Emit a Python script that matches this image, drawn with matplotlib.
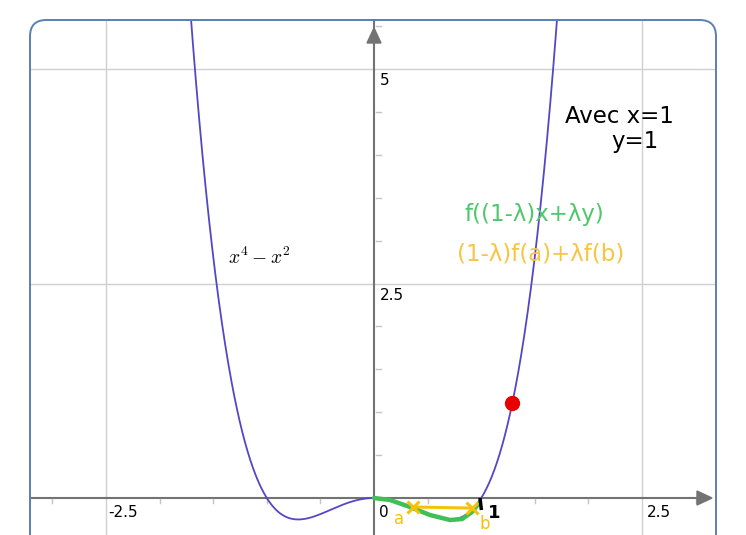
import numpy as np
import matplotlib
matplotlib.use("Agg")
import matplotlib.pyplot as plt
from matplotlib.patches import FancyBboxPatch, Polygon

plt.rcParams["mathtext.fontset"] = "cm"

# fonction tracée
x_min, x_max = -3.489, 3.470
y_min, y_max = -0.431, 5.804
xs = np.linspace(-2.0, 2.0, 800)
ys = xs**4 - xs**2

# point rouge sur la courbe
point_x = [1.29]
point_y = [1.11]

# trait vert (à la main) sous l'axe
vert_x = [0.0, 0.149, 0.336, 0.522, 0.709, 0.821, 0.914, 0.98]
vert_y = [0.0, -0.023, -0.105, -0.198, -0.256, -0.245, -0.163, -0.058]

# corde jaune entre a et b
jaune_x = [0.364, 0.914]
jaune_y = [-0.105, -0.117]

# graduations
grid_x = [-2.5, 2.5]
grid_y = [2.5, 5.0]
ticks_x = [-3.0, -2.0, -1.5, -1.0, -0.5, 0.5, 1.0, 1.5, 2.0, 3.0]
ticks_y = [0.5, 1.0, 1.5, 2.0, 3.0, 3.5, 4.0, 4.5, 5.5]
labels_x = {-2.5: "-2.5", 2.5: "2.5"}
labels_y = {2.5: "2.5", 5.0: "5"}

W, H = 746, 535
fig = plt.figure(figsize=(W / 100, H / 100), dpi=100)
ax = fig.add_axes([0, 0, 1, 1])
ax.set_xlim(x_min, x_max)
ax.set_ylim(y_min, y_max)
ax.axis("off")

# cadre arrondi
box = dict(boxstyle="round,pad=0,rounding_size=0.022", mutation_aspect=W / H,
           transform=ax.transAxes)
cadre_fond = FancyBboxPatch((30 / W, -0.08), (716 - 30) / W, 1 - 20 / H + 0.08,
                            fc="white", ec="none", zorder=0, **box)
cadre = FancyBboxPatch((30 / W, -0.08), (716 - 30) / W, 1 - 20 / H + 0.08,
                       fc="none", ec="#5b7fb4", lw=1.4, zorder=10, clip_on=False, **box)
ax.add_patch(cadre_fond)
ax.add_patch(cadre)

clip_items = []
for gx in grid_x:
    clip_items.append(ax.axvline(gx, color="#d0d0d0", lw=1.0, zorder=1))
for gy in grid_y:
    clip_items.append(ax.axhline(gy, color="#d0d0d0", lw=1.0, zorder=1))

# axes avec flèches
axe_col = "#737373"
px = (x_max - x_min) / W
py = (y_max - y_min) / H
x_tip = x_min + 712 * px
y_tip = y_max - 28 * py
clip_items += ax.plot([x_min, x_tip - 8 * px], [0, 0], color=axe_col, lw=1.5, zorder=2)
clip_items += ax.plot([0, 0], [y_min, y_tip + 8 * py], color=axe_col, lw=1.5, zorder=2)
ax.add_patch(Polygon([[x_tip, 0], [x_tip - 15 * px, 7 * py], [x_tip - 15 * px, -7 * py]],
                     closed=True, color=axe_col, zorder=3))
ax.add_patch(Polygon([[0, y_tip], [-7 * px, y_tip - 15 * py], [7 * px, y_tip - 15 * py]],
                     closed=True, color=axe_col, zorder=3))

for tx in ticks_x:
    ax.plot([tx, tx], [-1 * py, -5 * py], color="#c4c4c4", lw=1.0, zorder=2)
for ty in ticks_y:
    ax.plot([2 * px, 7 * px], [ty, ty], color="#c4c4c4", lw=1.0, zorder=2)

for tx, lab in labels_x.items():
    ax.text(tx + 17 * px, -7 * py, lab, fontsize=11, ha="center", va="top", zorder=4)
ax.text(10 * px, -7 * py, "0", fontsize=11, ha="center", va="top", zorder=4)
for ty, lab in labels_y.items():
    ax.text(6 * px, ty - 12 * py, lab, fontsize=11, ha="left", va="center", zorder=4)

# courbe
clip_items += ax.plot(xs, ys, color="#5447c7", lw=1.3, zorder=5)
for it in clip_items:
    it.set_clip_path(cadre_fond)

ax.text(-1.07, 2.80, r"$x^4-x^2$", fontsize=14, ha="center", va="center", zorder=6)

# annotations à la main
ax.plot(vert_x, vert_y, color="#3fbf55", lw=3.2, solid_capstyle="round", zorder=6)
ax.plot(jaune_x, jaune_y, color="#f4c20d", lw=2.2, zorder=7)
ax.plot(jaune_x, jaune_y, ls="none", marker="x", ms=9, mew=2.2, color="#f4c20d", zorder=7)
ax.text(0.233, -0.245, "a", color="#f4c20d", fontsize=12, ha="center", va="center", zorder=7)
ax.text(1.03, -0.30, "b", color="#f4c20d", fontsize=12, ha="center", va="center", zorder=7)
ax.text(1.12, -0.17, "1", color="black", fontsize=13, fontweight="bold",
        ha="center", va="center", zorder=7)
ax.plot([0.99, 1.0], [-0.02, -0.12], color="black", lw=2.5, zorder=7)

ax.plot(point_x, point_y, "o", color="#e80000", ms=10, zorder=8)

ax.text(2.29, 4.45, "Avec x=1", fontsize=16.5, ha="center", va="center", zorder=6)
ax.text(2.43, 4.16, "y=1", fontsize=16.5, ha="center", va="center", zorder=6)
ax.text(1.50, 3.30, "f((1-λ)x+λy)", color="#4fc76c", fontsize=16.5,
        ha="center", va="center", zorder=6)
ax.text(1.55, 2.84, "(1-λ)f(a)+λf(b)", color="#f7c542", fontsize=16.5,
        ha="center", va="center", zorder=6)

fig.savefig("out.png", dpi=100)
